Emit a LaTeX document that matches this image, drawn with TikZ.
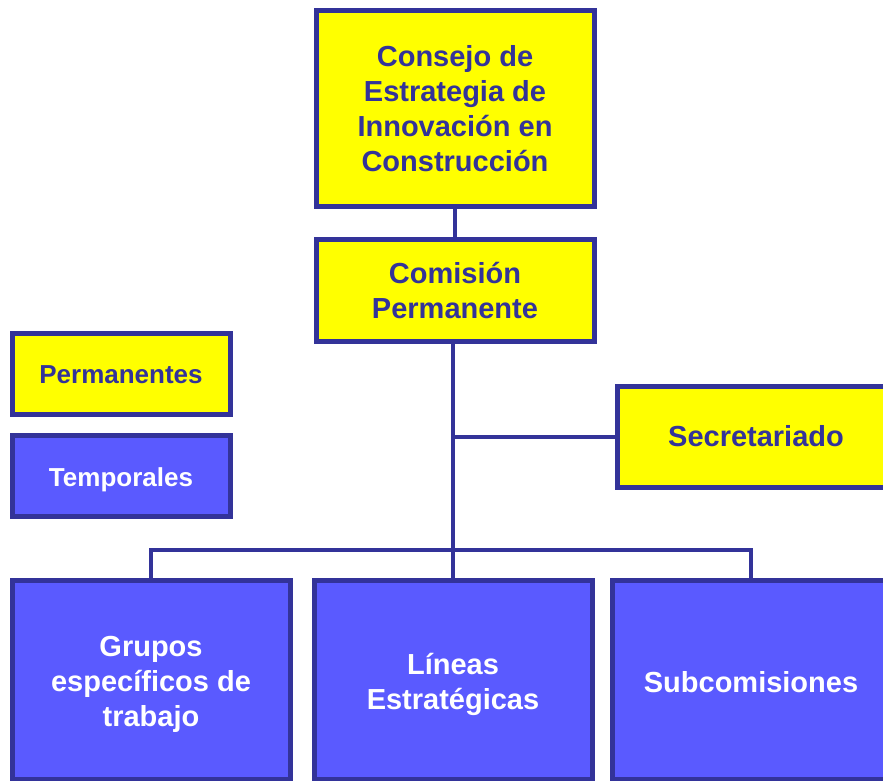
\documentclass[tikz,border=0pt]{standalone}
\usepackage{fontspec}
\setmainfont{Liberation Sans}
\usetikzlibrary{backgrounds}
\definecolor{orgline}{HTML}{333399}
\definecolor{orgyellow}{HTML}{FFFF00}
\definecolor{orgblue}{HTML}{5A5AFF}
\tikzset{
  unit/.style={draw=orgline,line width=5pt,align=center,inner sep=0pt,
    font=\fontsize{29}{35}\selectfont\bfseries},
  fixed/.style={unit,fill=orgyellow,text=orgline},
  temporary/.style={unit,fill=orgblue,text=white},
  legend/.style={minimum width=218pt,minimum height=81pt,
    font=\fontsize{26}{31}\selectfont\bfseries},
  group/.style={temporary,minimum width=278pt,minimum height=199pt},
  link/.style={draw=orgline,line width=4pt},
}
\begin{document}
\begin{tikzpicture}[x=1pt,y=-1pt]
  \useasboundingbox (0,0) rectangle (883,780);
  % main chain
  \node[fixed,minimum width=278pt,minimum height=196pt] (consejo) at (455,108.5)
    {Consejo de\\Estrategia de\\Innovación en\\Construcción};
  \node[fixed,minimum width=278pt,minimum height=102pt] (comision) at (455,290)
    {Comisión\\Permanente};
  \node[fixed,minimum width=278pt,minimum height=101pt] (secret) at (756,436.5)
    {Secretariado};
  % legend
  \node[fixed,legend] (perm) at (121,373.5) {\rule{0pt}{21pt}Permanentes};
  \node[temporary,legend] (temp) at (121,476) {\rule{0pt}{27pt}Temporales};
  % working groups
  \node[group] (grupos) at (151,679.5)
    {\rule{0pt}{30pt}Grupos\\específicos de\\trabajo};
  \node[group] (lineas) at (453,679.5)
    {\rule{0pt}{31pt}Líneas\\Estratégicas};
  \node[group] (subcom) at (751,679.5)
    {\rule{0pt}{27pt}Subcomisiones};
  \coordinate (bus) at (453,550);
  \begin{scope}[on background layer]
    \path[link] (consejo) -- (comision);
    \path[link] (comision.south -| bus) -- (lineas.north -| bus);
    \path[link] (secret.west) -- (secret.west -| bus);
    \path[link] (grupos.north) |- (bus) -| (subcom.north);
  \end{scope}
\end{tikzpicture}
\end{document}
